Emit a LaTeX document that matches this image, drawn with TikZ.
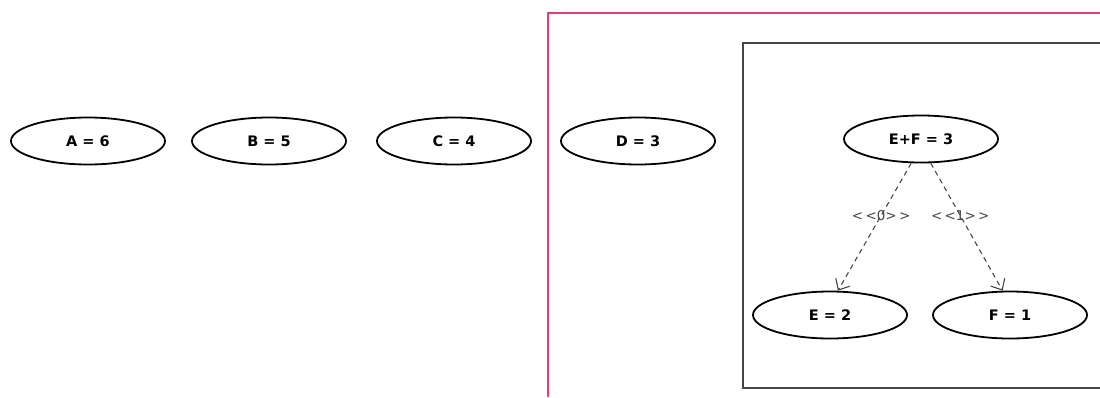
\documentclass[tikz,border=0pt]{standalone}
\usepackage{fontspec}
\setmainfont{DejaVu Sans}
\usetikzlibrary{shapes.geometric,arrows.meta}
\definecolor{pinkline}{RGB}{230,60,120}
\definecolor{grayline}{RGB}{70,70,70}
\newcommand{\stlbl}[1]{\textless\,\textless #1\textgreater\,\textgreater}
\tikzset{
  val/.style={ellipse, draw=black, line width=1.8pt, minimum width=154pt, minimum height=47pt, inner sep=0pt, font=\bfseries\fontsize{14.5}{16}\selectfont},
  dep/.style={draw=grayline, dashed, dash pattern=on 5pt off 4pt, line width=1.1pt, -{Straight Barb[length=9pt,width=16pt]}},
  lbl/.style={font=\fontsize{13.5}{15}\selectfont, text=grayline, inner sep=1pt}
}
\begin{document}
\begin{tikzpicture}[x=1pt,y=-1pt]
\useasboundingbox (0,0) rectangle (1100,397);
\draw[pinkline, line width=1.3pt] (548,397) -- (548,13) -- (1100,13);
\draw[grayline, line width=1.3pt] (1100,43) -- (743,43) -- (743,388) -- (1100,388);
\node[val] (a) at (88,141) {A = 6};
\node[val] (b) at (269,141) {B = 5};
\node[val] (c) at (454,141) {C = 4};
\node[val] (d) at (638,141) {D = 3};
\node[val] (ef) at (921,139) {E+F = 3};
\node[val] (e) at (830,315) {E = 2};
\node[val] (f) at (1010,315) {F = 1};
\draw[dep] (ef.-112) -- (e.72) node[lbl, pos=0.41] {\stlbl{0}};
\draw[dep] (ef.-68) -- (f.107) node[lbl, pos=0.41] {\stlbl{1}};
\end{tikzpicture}
\end{document}
